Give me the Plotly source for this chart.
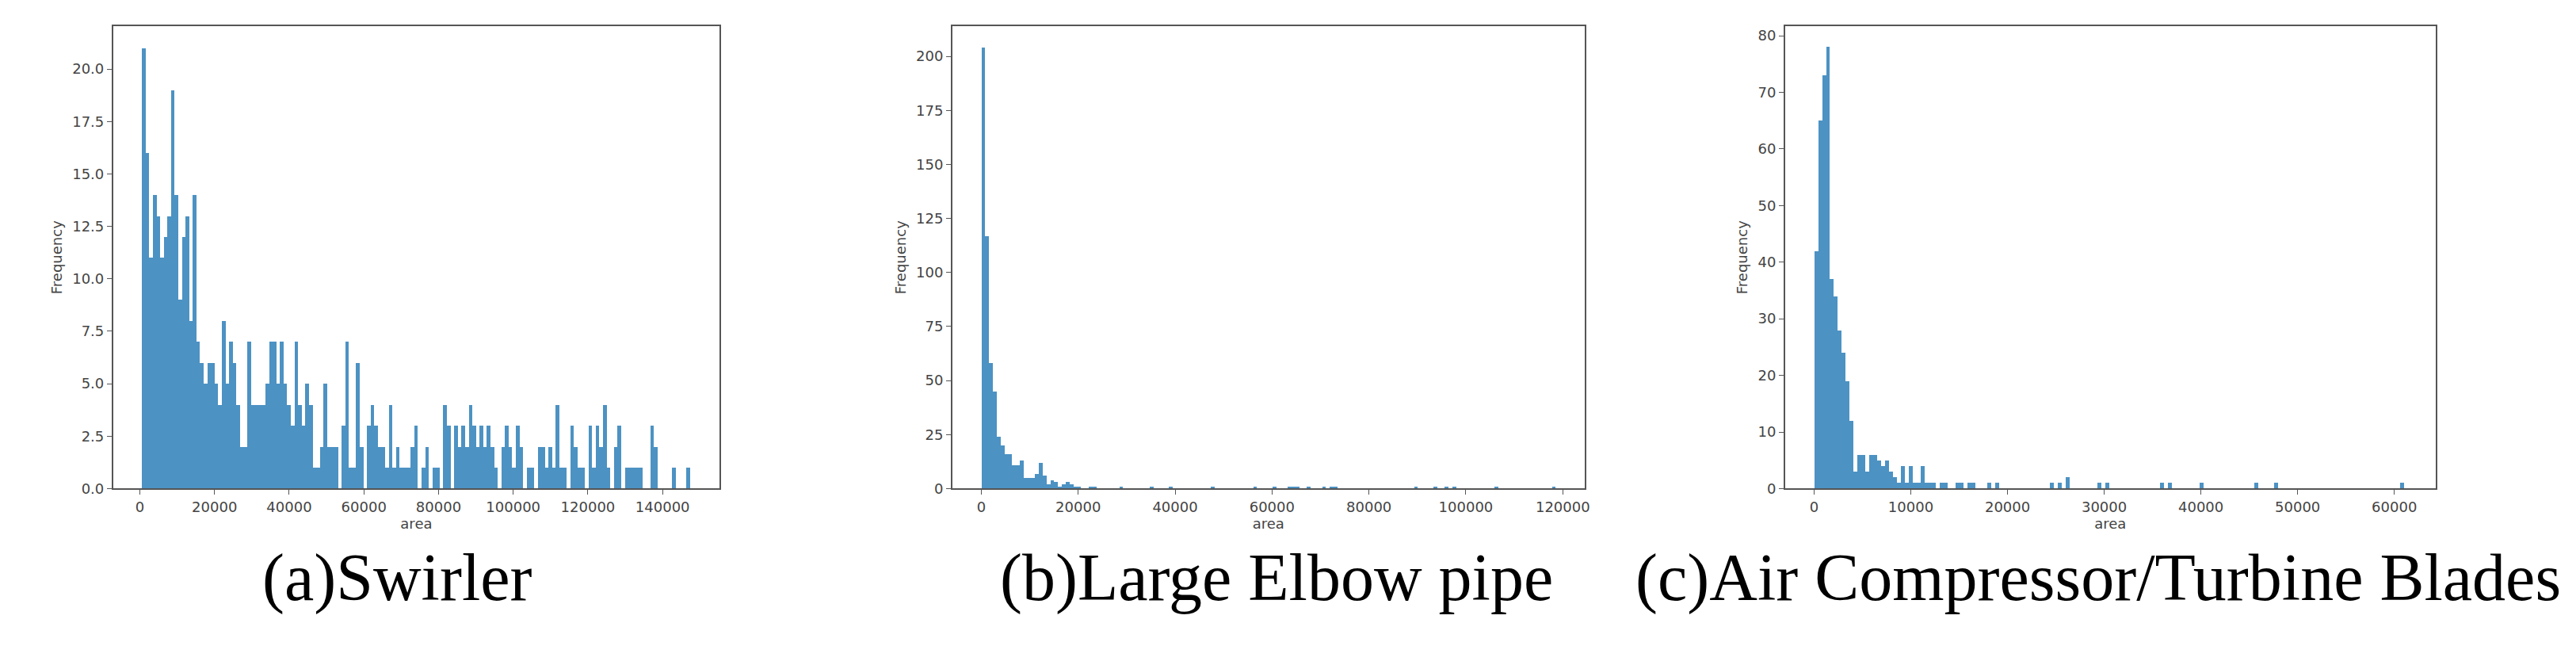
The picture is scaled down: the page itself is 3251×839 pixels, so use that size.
import plotly.graph_objects as go

# (a) Swirler histogram counts (equal bins from a_min to a_max)
a_min, a_max = 500, 147300
a_counts = [21,16,11,14,13,11,12,13,19,14,9,12,13,8,14,7,6,5,6,6,5,4,8,5,7,6,4,2,2,7,
            4,4,4,4,5,7,7,5,7,5,4,3,7,4,3,5,4,1,1,2,5,2,2,2,0,3,7,1,1,6,
            2,0,3,4,3,2,2,1,4,1,2,1,1,1,2,3,0,1,2,0,1,1,0,4,3,0,3,2,3,2,
            4,3,2,3,2,3,2,1,0,2,3,2,1,3,2,0,1,1,0,2,2,1,2,1,4,1,1,0,3,2,
            1,1,0,3,1,3,2,4,1,0,2,3,0,1,1,1,1,1,0,0,3,2,0,0,0,0,1,0,0,0,1]

# (b) Large Elbow pipe: 150 bins; dense head plus sparse tail (bin index -> count)
b_min, b_max, b_nbins = 0, 118500, 150
b_head = [204,117,58,45,24,20,16,16,11,11,13,5,5,5,7,12,6,2,4,3,1,2,3,2,1,1]
b_tail_bins = [28,29,36,44,49,60,71,76,80,81,82,85,89,91,92,113,118,121,123,134,149]
b_tail_counts = [1,1,1,1,1,1,1,1,1,1,1,1,1,1,1,1,1,1,1,1,1]

# (c) Air Compressor/Turbine Blades: 150 bins
c_min, c_max, c_nbins = 0, 61000, 150
c_head = [42,65,73,78,37,34,28,24,19,12,3,6,6,3,6,6,5,4,5,3,2,1,4,1,4,1,1,4,1,1,
          1,0,1,1,0,0,1,1,0,1,1,0,0,0,1,0,1]
c_tail_bins = [60,62,64,72,74,88,90,98,112,117,149]
c_tail_counts = [1,1,2,1,1,1,1,1,1,1,1]

titles = ["(a)Swirler", "(b)Large Elbow pipe", "(c)Air Compressor/Turbine Blades"]

def full(head, nb, tb, tc):
    c = head + [0] * (nb - len(head))
    for i, v in zip(tb, tc):
        c[i] = v
    return c

b_counts = full(b_head, b_nbins, b_tail_bins, b_tail_counts)
c_counts = full(c_head, c_nbins, c_tail_bins, c_tail_counts)

def centers(lo, hi, n):
    w = (hi - lo) / n
    return [lo + w * (i + 0.5) for i in range(n)], w

fig = go.Figure()
bar_color = "rgba(31,119,180,0.8)"
panels = [
    (a_counts, a_min, a_max, "x", "y"),
    (b_counts, b_min, b_max, "x2", "y2"),
    (c_counts, c_min, c_max, "x3", "y3"),
]
for counts, lo, hi, xa, ya in panels:
    xs, w = centers(lo, hi, len(counts))
    fig.add_trace(go.Bar(x=xs, y=counts, width=w, marker=dict(color=bar_color, line=dict(width=0)),
                         xaxis=xa, yaxis=ya, showlegend=False))

tickfont = dict(family="DejaVu Sans", size=18, color="#444")
axcommon = dict(showgrid=False, zeroline=False, showline=True, mirror=True, linecolor="#555",
                linewidth=1.5, ticks="outside", ticklen=6, tickcolor="#555", tickfont=tickfont)

doms_x = [[0.0415, 0.2775], [0.368, 0.614], [0.692, 0.945]]
dom_y = [0.266, 0.970]
xranges = [[-7180, 155280], [-5980, 124500], [-3000, 64250]]
yranges = [[0, 22.05], [0, 214], [0, 81.7]]
xticks = [[0,20000,40000,60000,80000,100000,120000,140000],
          [0,20000,40000,60000,80000,100000,120000],
          [0,10000,20000,30000,40000,50000,60000]]
yticks = [[0,2.5,5,7.5,10,12.5,15,17.5,20],
          [0,25,50,75,100,125,150,175,200],
          [0,10,20,30,40,50,60,70,80]]

layout = dict(width=3251, height=839, margin=dict(l=0, r=0, t=0, b=0),
              plot_bgcolor="white", paper_bgcolor="white", bargap=0)
for i in range(3):
    s = "" if i == 0 else str(i + 1)
    layout["xaxis" + s] = dict(axcommon, domain=doms_x[i], range=xranges[i], anchor="y" + s,
                               tickvals=xticks[i], ticktext=[str(v) for v in xticks[i]],
                               title=dict(text="area", font=tickfont, standoff=6))
    ytext = ["%.1f" % v for v in yticks[i]] if i == 0 else [str(v) for v in yticks[i]]
    layout["yaxis" + s] = dict(axcommon, domain=dom_y, range=yranges[i], anchor="x" + s,
                               tickvals=yticks[i], ticktext=ytext,
                               title=dict(text="Frequency", font=tickfont, standoff=8))
fig.update_layout(**layout)

tx = [495, 1606, 2646]
for t, x in zip(titles, tx):
    fig.add_annotation(text=t, x=x / 3251, y=1 - 730 / 839, xref="paper", yref="paper",
                       showarrow=False, font=dict(family="Liberation Serif", size=84, color="black"),
                       xanchor="center", yanchor="middle")

fig.write_html("out.html")
